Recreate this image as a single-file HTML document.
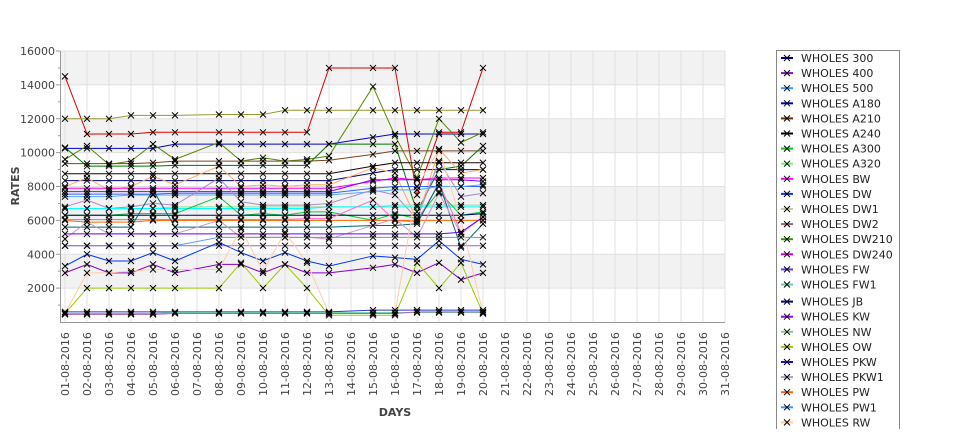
<!DOCTYPE html>
<html><head><meta charset="utf-8"><style>
body{margin:0;background:#fff;font-family:"Liberation Sans","DejaVu Sans",sans-serif;}
svg text{font-family:"DejaVu Sans","Liberation Sans",sans-serif;}
</style></head><body>
<svg id="c" width="975" height="429" xmlns="http://www.w3.org/2000/svg"></svg>
<script>
const dayLabels=["01-08-2016","02-08-2016","03-08-2016","04-08-2016","05-08-2016","06-08-2016","07-08-2016","08-08-2016","09-08-2016","10-08-2016","11-08-2016","12-08-2016","13-08-2016","14-08-2016","15-08-2016","16-08-2016","17-08-2016","18-08-2016","19-08-2016","20-08-2016","21-08-2016","22-08-2016","23-08-2016","24-08-2016","25-08-2016","26-08-2016","27-08-2016","28-08-2016","29-08-2016","30-08-2016","31-08-2016"];
const dataDays=[0,1,2,3,4,5,7,8,9,10,11,12,14,15,16,17,18,19];
const yTicks=[2000,4000,6000,8000,10000,12000,14000,16000];
const legendNames=["WHOLES 300","WHOLES 400","WHOLES 500","WHOLES A180","WHOLES A210","WHOLES A240","WHOLES A300","WHOLES A320","WHOLES BW","WHOLES DW","WHOLES DW1","WHOLES DW2","WHOLES DW210","WHOLES DW240","WHOLES FW","WHOLES FW1","WHOLES JB","WHOLES KW","WHOLES NW","WHOLES OW","WHOLES PKW","WHOLES PKW1","WHOLES PW","WHOLES PW1","WHOLES RW"];
const legendColors=["#000099","#9900cc","#3399ff","#0000cc","#663300","#000000","#00cc00","#66ff66","#ff00ff","#0033ff","#cccc99","#996677","#339900","#cc00cc","#6633ff","#66ccaa","#000099","#9900ff","#88cc88","#99cc00","#3300cc","#aa99cc","#ff6600","#3399ff","#ffcc99"];
const seriesColors=["#dd0000","#999933","#0000cc","#558800","#774422","#007700","#220000","#000088","#ffaa66","#ff00ff","#8800ff","#3366ff","#55aaff","#aa88cc","#99dd99","#00ffff","#00cc33","#000066","#ff66cc","#ff6600","#006677","#cc99cc","#6600ff","#5599ee","#9966cc","#0033ff","#8800cc","#ffccaa","#99cc00","#3333cc","#66ccaa","#aa66aa"];
const seriesValues=[
[14500,11100,11100,11100,11200,11200,11200,11200,11200,11200,11200,15000,15000,15000,7500,11200,11200,15000],
[12000,12000,12000,12200,12200,12200,12250,12250,12250,12500,12500,12500,12500,12500,12500,12500,12500,12500],
[10250,10250,10250,10250,10250,10500,10500,10500,10500,10500,10500,10500,10900,11100,11100,11100,11100,11100],
[9600,10400,9300,9500,10500,9600,10600,9500,9700,9500,9600,9800,13900,11000,8500,12000,10600,11200],
[9350,9350,9350,9350,9400,9500,9500,9500,9500,9500,9500,9550,9900,10100,10100,10100,10100,10100],
[10300,9200,9200,9200,9200,9250,9250,9250,9250,9250,9250,10500,10500,10500,6500,9000,9200,10400],
[8750,8750,8750,8750,8750,8750,8750,8750,8750,8750,8750,8750,9200,9400,9400,9400,9400,9400],
[8350,8350,8350,8350,8350,8350,8350,8350,8350,8350,8350,8350,8800,9000,9000,9000,9000,9000],
[8000,8500,7800,8000,8600,8100,9200,8000,8100,8000,8100,8100,9100,8800,6000,10200,8800,9000],
[7900,7900,7900,7900,7900,7900,7900,7900,7900,7900,7900,7900,8300,8500,8400,8500,8500,8500],
[7700,7700,7700,7700,7700,7700,7700,7700,7700,7700,7700,7700,8400,8400,8400,8400,8400,8300],
[7550,7550,7550,7550,7550,7600,7600,7600,7600,7600,7600,7600,7900,8000,8000,8000,8000,8000],
[7400,7400,7400,7500,7500,7500,7500,7500,7500,7500,7500,7500,7700,7800,7800,8000,8000,8100],
[6800,7200,6700,6800,7000,6900,8500,7100,6900,6900,6900,7000,7800,7500,6100,9500,7400,7600],
[6700,6700,6700,6700,6700,6800,6800,6800,6800,6800,6800,6800,6800,6900,6900,6900,6900,6900],
[6700,6700,6700,6700,6700,6700,6700,6700,6700,6700,6700,6800,6800,6800,6800,6800,6800,6800],
[6300,6300,6300,6400,6400,6400,7400,6300,6400,6300,6500,6500,6000,6400,6100,7700,6300,6500],
[6300,6300,6300,6300,6300,6300,6300,6300,6300,6300,6300,6300,6300,6300,6300,6300,6300,6400],
[6050,6050,6050,6050,6050,6050,6050,6050,6050,6050,6100,6100,7200,6000,5900,8200,5300,6200],
[6000,5900,5900,5900,6000,6000,6000,6000,6000,6000,6000,6000,6000,6000,6000,6000,6000,6000],
[5600,5600,5600,5600,7800,5600,5600,5600,5600,5600,5600,5600,5700,5700,5800,8200,4400,5800],
[4900,5900,5200,5200,5200,5200,6000,5000,5000,5000,5000,4900,5700,6100,5000,7600,5200,6200],
[5200,5200,5200,5200,5200,5200,5200,5200,5200,5200,5200,5200,5200,5200,5200,5200,5300,6200],
[4500,4500,4500,4500,4500,4500,5000,5000,5000,5000,5000,5000,5000,5000,5000,5000,5000,5000],
[4500,4500,4500,4500,4500,4500,4500,4500,4500,4500,4500,4500,4500,4500,4500,4500,4500,4500],
[3300,4000,3600,3600,4100,3600,4700,4100,3600,4100,3600,3300,3900,3800,3700,4800,3700,3400],
[2900,3400,2900,2900,3400,2900,3400,3400,2900,3400,2900,2900,3200,3400,2900,3500,2500,2900],
[500,2900,2900,3000,3100,3100,3100,5500,3000,5300,3500,500,500,500,8000,10200,6000,500],
[500,2000,2000,2000,2000,2000,2000,3500,2000,3400,2000,400,400,400,3500,2000,3500,500],
[600,600,600,600,600,600,600,600,600,600,600,600,700,700,700,700,700,700],
[500,500,500,500,500,550,550,550,550,550,550,550,550,550,550,550,550,550],
[450,450,450,450,450,500,500,500,500,500,500,500,500,500,600,600,600,600]
];
const NS="http://www.w3.org/2000/svg";
const svg=document.getElementById('c');
const X0=65,DX=22,YTOP=51,YBOT=322;
function xPos(d){return X0+d*DX;}
function yPos(v){return YTOP+(16000-v)*(YBOT-YTOP)/16000;}
function el(t,a,p){const e=document.createElementNS(NS,t);for(const k in a)e.setAttribute(k,a[k]);(p||svg).appendChild(e);return e;}
// bands
for(let b=0;b<4;b++){
 const r=el('rect',{x:60,y:yPos(16000-b*4000),width:665,height:yPos(14000)-yPos(16000),fill:'#f2f2f2'});
 
 
}
// gridlines
dayLabels.forEach((l,i)=>{const g=el('line',{x1:xPos(i),x2:xPos(i),y1:YTOP,y2:YBOT,stroke:'#e0e0e0','stroke-width':1});
 
 });
yTicks.forEach(v=>{const g=el('line',{x1:60,x2:725,y1:yPos(v),y2:yPos(v),stroke:'#e0e0e0'});
 
 });
// axes
const ya=el('line',{x1:60.5,x2:60.5,y1:YTOP,y2:YBOT,stroke:'#999'});


const xa=el('line',{x1:60,x2:725,y1:YBOT+0.5,y2:YBOT+0.5,stroke:'#999'});


for(let v=1000;v<=16000;v+=1000){const t=el('line',{x1:v%2000?58:56,x2:60,y1:yPos(v),y2:yPos(v),stroke:'#999'});
 
 }
yTicks.forEach(v=>{const t=el('text',{x:55,y:yPos(v)+4,'text-anchor':'end','font-size':11,fill:'#444'});t.textContent=v;
 
 });
dayLabels.forEach((l,i)=>{const t=el('text',{transform:`translate(${xPos(i)+4},${396}) rotate(-90)`,'font-size':11,fill:'#444'});t.textContent=l;
 
 });
const yt=el('text',{transform:'translate(19,186) rotate(-90)','text-anchor':'middle','font-size':11,'font-weight':'bold',fill:'#444'});yt.textContent='RATES';


const xt=el('text',{x:395,y:416,'text-anchor':'middle','font-size':11,'font-weight':'bold',fill:'#444'});xt.textContent='DAYS';


// series
const marks=el('g',{});
seriesValues.forEach((vals,si)=>{
 const pts=vals.map((v,i)=>xPos(dataDays[i])+','+yPos(v)).join(' ');
 const p=el('polyline',{points:pts,fill:'none',stroke:seriesColors[si%seriesColors.length],'stroke-width':1});
 
 
});
seriesValues.forEach((vals,si)=>{
 vals.forEach((v,i)=>{const x=xPos(dataDays[i]),y=yPos(v);
  const m=el('path',{d:`M${x-3},${y-3}L${x+3},${y+3}M${x-3},${y+3}L${x+3},${y-3}`,stroke:'#000','stroke-width':1});
  
  });
});
// legend
const lg=el('g',{});


el('rect',{x:776.5,y:50.5,width:123,height:400,fill:'#fff',stroke:'#888'},lg);
legendNames.forEach((n,i)=>{const y=58+i*15.1+(i>=16?2:0);
 const g=el('g',{},lg);
 
 
 el('line',{x1:781,x2:793,y1:y,y2:y,stroke:legendColors[i],'stroke-width':2},g);
 el('path',{d:`M784,${y-3}L790,${y+3}M784,${y+3}L790,${y-3}`,stroke:'#000'},g);
 const t=el('text',{x:801,y:y+4,'font-size':11,fill:'#222'},g);t.textContent=n;});
</script>
</body></html>
